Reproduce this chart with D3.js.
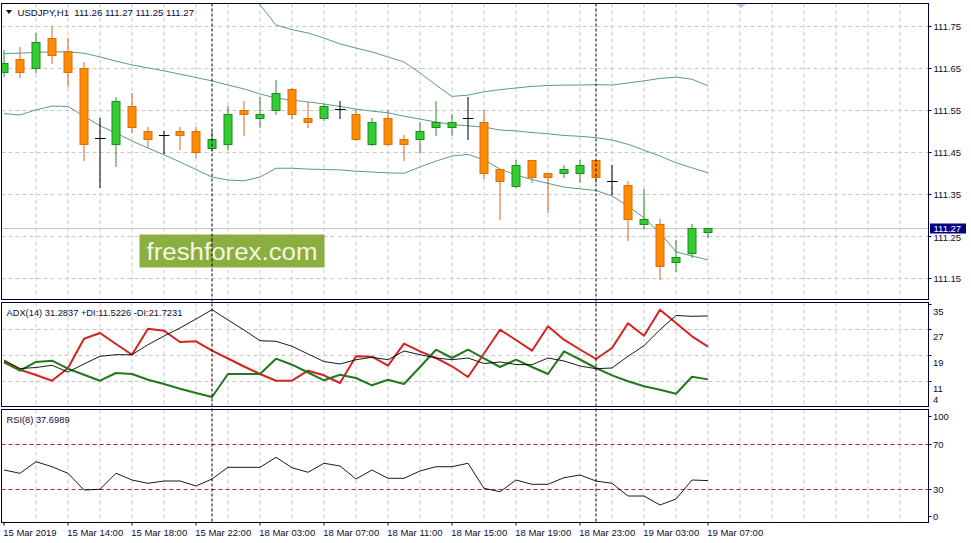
<!DOCTYPE html>
<html><head><meta charset="utf-8">
<script src="https://cdn.jsdelivr.net/npm/d3@7"></script>
<style>body{margin:0;background:#fff}svg{display:block}text{font-family:"Liberation Sans",Arial,sans-serif}</style>
</head><body><svg id="c" width="971" height="543"></svg>
<script>
// ---------------- DATA ----------------
const symbolTitle = "USDJPY,H1";
const lastOHLC = [111.26, 111.27, 111.25, 111.27];
const lastPrice = 111.27;
const open  = [111.641,111.672,111.651,111.722,111.691,111.651,111.483,111.470,111.560,111.501,111.492,111.501,111.501,111.460,111.470,111.551,111.532,111.551,111.601,111.532,111.532,111.553,111.541,111.470,111.532,111.482,111.482,111.510,111.510,111.532,111.522,111.410,111.369,111.431,111.401,111.401,111.401,111.431,111.381,111.371,111.280,111.280,111.189,111.210,111.26];
const high  = [111.695,111.702,111.734,111.752,111.722,111.665,111.532,111.582,111.591,111.511,111.502,111.511,111.511,111.501,111.561,111.573,111.582,111.623,111.604,111.571,111.566,111.573,111.553,111.532,111.551,111.491,111.522,111.572,111.541,111.582,111.551,111.410,111.433,111.431,111.401,111.420,111.433,111.431,111.420,111.383,111.363,111.292,111.242,111.280,111.27];
const low   = [111.633,111.631,111.641,111.663,111.610,111.433,111.369,111.419,111.500,111.463,111.449,111.460,111.440,111.456,111.459,111.491,111.510,111.541,111.532,111.510,111.528,111.532,111.480,111.468,111.468,111.433,111.451,111.491,111.491,111.482,111.390,111.291,111.369,111.381,111.310,111.391,111.381,111.381,111.351,111.242,111.270,111.150,111.169,111.201,111.25];
const close = [111.663,111.641,111.713,111.682,111.641,111.470,111.483,111.572,111.510,111.482,111.492,111.491,111.451,111.482,111.541,111.541,111.541,111.591,111.541,111.522,111.560,111.553,111.482,111.522,111.470,111.470,111.501,111.522,111.522,111.532,111.401,111.381,111.420,111.391,111.391,111.410,111.420,111.391,111.381,111.291,111.291,111.179,111.201,111.270,111.27];

const bbUpper = [null,null,null,null,null,null,null,null,null,null,null,null,null,null,null,
  111.845,111.802,111.754,111.743,111.735,111.723,111.709,111.699,111.690,111.678,111.666,111.640,111.611,111.584,111.587,111.595,111.600,111.604,111.608,111.610,111.611,111.611,111.612,111.611,111.616,111.621,111.627,111.630,111.625,111.609];
const bbMiddle = [111.686,111.687,111.689,111.690,111.690,111.687,111.678,111.668,111.659,111.652,111.645,111.637,111.629,111.621,111.611,111.602,111.590,111.580,111.575,111.571,111.566,111.560,111.554,111.549,111.545,111.537,111.530,111.523,111.517,111.514,111.511,111.504,111.502,111.498,111.495,111.491,111.489,111.486,111.480,111.470,111.456,111.442,111.426,111.414,111.402];
const bbLower = [111.543,111.540,111.552,111.561,111.560,111.537,111.514,111.497,111.478,111.461,111.445,111.428,111.410,111.392,111.385,111.383,111.392,111.413,111.413,111.411,111.410,111.409,111.406,111.404,111.402,111.401,111.416,111.430,111.442,111.446,111.433,111.411,111.397,111.386,111.377,111.368,111.364,111.360,111.347,111.323,111.295,111.259,111.214,111.204,111.195];

const adx     = [17.56,14.91,15.22,15.91,13.82,16.31,18.71,19.21,19.21,22.33,25.04,27.53,30.33,33.23,30.02,26.91,23.57,23.39,21.83,19.43,17.09,16.31,17.65,18.40,17.65,20.36,19.21,18.18,17.65,18.18,16.47,16.94,16.16,16.10,18.18,17.25,15.69,14.85,15.07,18.71,22.02,27.00,31.42,31.17,31.2837];
const plusDI  = [16.84,14.23,16.94,17.34,14.85,12.98,11.11,13.51,13.20,11.42,10.08,8.62,7.28,6.03,13.20,13.20,13.20,17.97,16.10,13.67,11.24,12.98,11.95,9.68,11.42,10.08,15.38,20.77,18.18,20.77,18.03,15.38,17.65,15.38,13.20,20.27,17.72,15.07,12.79,10.93,9.37,8.31,7.06,12.36,11.5226];
const minusDI = [17.16,14.54,12.89,11.11,15.07,24.20,25.97,22.55,19.21,27.31,26.69,23.17,23.39,20.46,18.03,15.54,13.20,11.11,11.11,14.23,12.79,10.40,18.71,18.59,15.79,22.64,20.27,18.18,15.60,12.26,19.59,27.00,23.79,20.46,28.06,23.88,20.83,17.87,21.30,28.99,25.13,33.23,29.09,24.94,21.7231];
const rsi     = [47.11,44.18,54.49,50.04,44.18,29.33,29.96,44.18,38.22,35.29,37.33,37.33,32.89,39.11,49.51,49.51,49.51,58.40,49.16,45.07,53.07,50.67,39.11,47.11,39.73,39.73,46.22,50.04,50.04,53.07,30.84,27.82,38.22,34.40,34.40,40.27,42.67,37.33,35.29,24.00,24.00,16.00,21.33,38.22,37.6989];

const priceTicks = [111.15,111.25,111.35,111.45,111.55,111.65,111.75];
const adxTicks = [35,27,19,11,4];
const rsiTicks = [100,70,30,0];
const rsiLevels = [70,30];
const xTickIndex  = [0,4,8,12,16,20,24,28,32,36,40,44];
const xTickLabels = ["15 Mar 2019","15 Mar 14:00","15 Mar 18:00","15 Mar 22:00","18 Mar 03:00","18 Mar 07:00","18 Mar 11:00","18 Mar 15:00","18 Mar 19:00","18 Mar 23:00","19 Mar 03:00","19 Mar 07:00"];
const daySeparators = [13,37];
const adxTitle = "ADX(14) 31.2837 +DI:11.5226 -DI:21.7231";
const rsiTitle = "RSI(8) 37.6989";
const watermark = "freshforex.com";

// ---------------- LAYOUT ----------------
const L = 1.5, R = 928.5;
const P = {top:3.5, bottom:299.5};
const A = {top:302.5, bottom:406.5};
const Q = {top:409.5, bottom:522.5};
const frameC = "#00002e", gridC = "#c8c8c8", txtC = "#0c0c3a";

const svg = d3.select("#c");
svg.append("rect").attr("width",971).attr("height",543).attr("fill","#fff");

const x = d3.scaleLinear().domain([-0.125, 57.8125]).range([L+0.5, R+0.5]); // x(0)=3.5, step 16
const yP = d3.scaleLinear().domain([111.15, 111.75]).range([278.7, 26.7]);
const yA = d3.scaleLinear().domain([11, 27]).range([381.06, 329.7]);
const yR = d3.scaleLinear().domain([0, 100]).range([523, 410.5]);
const px = v => Math.round(v - 0.5) + 0.5;

const defs = svg.append("defs");
function clip(id, p){ defs.append("clipPath").attr("id",id).append("rect").attr("x",L+0.5).attr("y",p.top+0.5).attr("width",R-L-1).attr("height",p.bottom-p.top-1); }
clip("cP",P); clip("cA",A); clip("cQ",Q);

const gridIdx = d3.range(2, 58, 2);
function vgrid(p){
  svg.append("g").selectAll("line").data(gridIdx).join("line")
    .attr("x1",d=>x(d)).attr("x2",d=>x(d)).attr("y1",p.top).attr("y2",p.bottom)
    .attr("stroke",gridC).attr("stroke-dasharray","4,3");
}
vgrid(P); vgrid(A); vgrid(Q);

// price horizontal grid
svg.append("g").selectAll("line").data(priceTicks).join("line")
  .attr("x1",L).attr("x2",R).attr("y1",d=>px(yP(d))).attr("y2",d=>px(yP(d)))
  .attr("stroke",gridC).attr("stroke-dasharray","4,3");
// ADX grid
svg.append("g").selectAll("line").data([27,19,11]).join("line")
  .attr("x1",L).attr("x2",R).attr("y1",d=>px(yA(d))).attr("y2",d=>px(yA(d)))
  .attr("stroke",gridC).attr("stroke-dasharray","4,3");
// RSI levels
svg.append("g").selectAll("line").data(rsiLevels).join("line")
  .attr("x1",L).attr("x2",R).attr("y1",d=>px(yR(d))).attr("y2",d=>px(yR(d)))
  .attr("stroke","#a82828").attr("stroke-dasharray","4,3");

// current price line
svg.append("line").attr("x1",L).attr("x2",R).attr("y1",px(yP(lastPrice))).attr("y2",px(yP(lastPrice)))
  .attr("stroke","#c4c4c4");

// watermark
svg.append("rect").attr("x",139.5).attr("y",234.5).attr("width",185).attr("height",33).attr("fill","#8bae40");
svg.append("text").attr("x",146.5).attr("y",260).attr("font-family","'Open Sans',sans-serif").attr("font-size",24.8)
  .attr("textLength",171).attr("lengthAdjust","spacingAndGlyphs")
  .attr("fill","#f3f7e4").text(watermark);

// Bollinger bands
const gP = svg.append("g").attr("clip-path","url(#cP)");
const idx = d3.range(open.length);
function bandLine(arr){
  return d3.line().defined(i=>arr[i]!=null).x(i=>x(i)).y(i=>yP(arr[i]))(idx);
}
[bbUpper,bbMiddle,bbLower].forEach(a=>{
  gP.append("path").attr("d",bandLine(a)).attr("fill","none").attr("stroke","#5a9e80").attr("stroke-width",1);
});

// candles
const cg = gP.append("g");
idx.forEach(i=>{
  const o=open[i], c=close[i], h=high[i], l=low[i];
  const cx = x(i);
  const doji = o===c;
  const bull = c>o;
  const wickC = doji ? "#000" : (bull ? "#2a8c2a" : "#d2691e");
  cg.append("line").attr("x1",cx).attr("x2",cx).attr("y1",Math.round(yP(h))).attr("y2",Math.round(yP(l))+1)
    .attr("stroke",wickC);
  if(doji){
    cg.append("line").attr("x1",cx-5).attr("x2",cx+5.5).attr("y1",px(yP(o))).attr("y2",px(yP(o))).attr("stroke","#000");
  } else {
    const t = px(yP(Math.max(o,c))), b = px(yP(Math.min(o,c)));
    cg.append("rect").attr("x",cx-4).attr("y",t).attr("width",8).attr("height",Math.max(1,b-t))
      .attr("fill", bull ? "#33cc33" : "#ff8c00").attr("stroke", bull ? "#1f8a1f" : "#dc6e14");
  }
});

// ADX lines
const gA = svg.append("g").attr("clip-path","url(#cA)");
const lnA = arr => d3.line().x(i=>x(i)).y(i=>yA(arr[i]))(idx);
gA.append("path").attr("d",lnA(minusDI)).attr("fill","none").attr("stroke","#d42222").attr("stroke-width",2).attr("stroke-linejoin","round");
gA.append("path").attr("d",lnA(plusDI)).attr("fill","none").attr("stroke","#22781f").attr("stroke-width",2).attr("stroke-linejoin","round");
gA.append("path").attr("d",lnA(adx)).attr("fill","none").attr("stroke","#000").attr("stroke-width",0.9);

// RSI line
const gQ = svg.append("g").attr("clip-path","url(#cQ)");
gQ.append("path").attr("d",d3.line().x(i=>x(i)).y(i=>yR(rsi[i]))(idx)).attr("fill","none").attr("stroke","#000").attr("stroke-width",0.9);

// day separators
svg.append("g").selectAll("line").data(daySeparators).join("line")
  .attr("x1",d=>x(d)).attr("x2",d=>x(d)).attr("y1",P.top).attr("y2",Q.bottom)
  .attr("stroke","#000").attr("stroke-dasharray","3,2");

// frames
[P,A,Q].forEach(p=>{
  svg.append("rect").attr("x",L).attr("y",p.top).attr("width",R-L).attr("height",p.bottom-p.top)
    .attr("fill","none").attr("stroke",frameC);
});

// top shift marker
svg.append("path").attr("d","M736,4 L746,4 L741,8 Z").attr("fill","#c6c6d0");

// right axis: price
const ax = svg.append("g").attr("font-size",9.5).attr("fill",txtC);
priceTicks.forEach(v=>{
  const yy = px(yP(v));
  svg.append("line").attr("x1",R).attr("x2",R+3).attr("y1",yy).attr("y2",yy).attr("stroke",frameC);
  ax.append("text").attr("x",933.5).attr("y",yy + (v===111.25 ? 1 : 0)).attr("dy","0.35em").text(v.toFixed(2));
});
// last price tag
svg.append("rect").attr("x",930).attr("y",px(yP(lastPrice))-5).attr("width",36).attr("height",10).attr("fill","#000080");
svg.append("text").attr("x",933.5).attr("y",px(yP(lastPrice))).attr("dy","0.36em").attr("font-size",9.5)
  .attr("fill","#fff").text(lastPrice.toFixed(2));

// ADX axis
adxTicks.forEach(v=>{
  const yy = px(yA(v));
  const ly = Math.min(yy + 7, A.bottom - 7);
  if (v>4) svg.append("line").attr("x1",R).attr("x2",R+3).attr("y1",yy).attr("y2",yy).attr("stroke",frameC);
  ax.append("text").attr("x",933).attr("y",ly).attr("dy","0.35em").text(v);
});
// RSI axis
rsiTicks.forEach(v=>{
  const yy = px(yR(v));
  const ly = Math.max(Q.top + 7, Math.min(yy, Q.bottom - 6));
  svg.append("line").attr("x1",R).attr("x2",R+3).attr("y1",ly).attr("y2",ly).attr("stroke",frameC);
  ax.append("text").attr("x",933).attr("y",ly).attr("dy","0.35em").text(v);
});

// x axis
xTickIndex.forEach((ti,k)=>{
  const xx = x(ti);
  svg.append("line").attr("x1",xx).attr("x2",xx).attr("y1",Q.bottom).attr("y2",Q.bottom+3).attr("stroke",frameC);
  ax.append("text").attr("x",xx-0.8).attr("y",535.5).text(xTickLabels[k]);
});

// titles
svg.append("path").attr("d","M6,10 L12,10 L9,14 Z").attr("fill",txtC);
svg.append("text").attr("x",17.5).attr("y",15.5).attr("font-size",9.6).attr("fill",txtC).attr("xml:space","preserve")
  .text(symbolTitle + "\u00a0\u00a0" + lastOHLC.map(v=>v.toFixed(2)).join(" "));
svg.append("text").attr("x",6.5).attr("y",315.5).attr("font-size",9.3).attr("fill",txtC).text(adxTitle);
svg.append("text").attr("x",6.5).attr("y",423).attr("font-size",9.3).attr("fill",txtC).text(rsiTitle);
</script></body></html>
